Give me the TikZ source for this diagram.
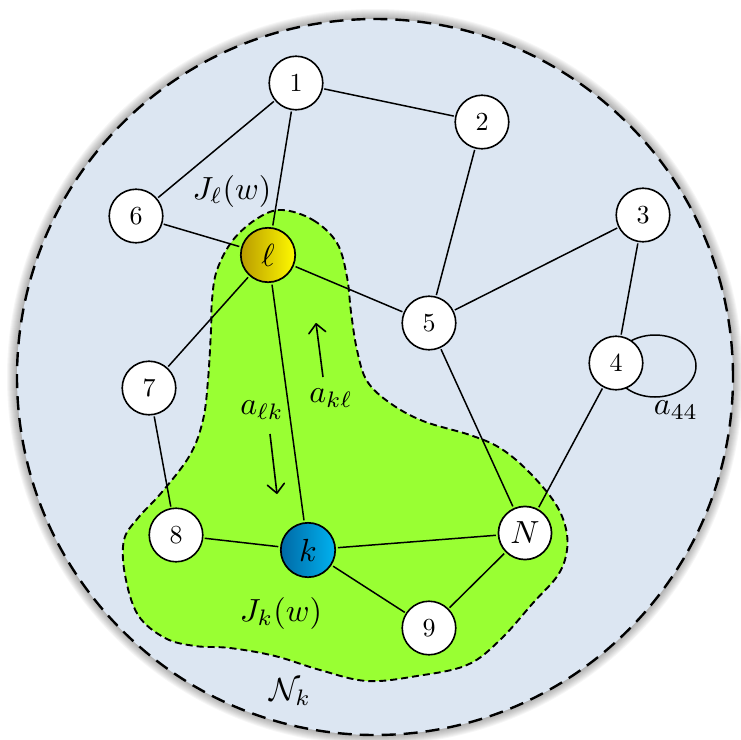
\documentclass[tikz,border=0pt]{standalone}
\usetikzlibrary{arrows.meta}
\definecolor{bgblue}{RGB}{220,230,242}
\definecolor{blobgreen}{RGB}{153,255,51}
\definecolor{ydark}{RGB}{185,155,0}
\definecolor{ylight}{RGB}{255,250,0}
\definecolor{bdark}{RGB}{0,105,165}
\definecolor{blight}{RGB}{0,178,240}
\begin{document}
\begin{tikzpicture}[x=1pt,y=-1pt,
  vtx/.style={circle,draw,line width=1.6pt,fill=white,scale=2.6,minimum size=20.6pt,inner sep=0pt},
  bigvtx/.style={circle,draw,line width=1.7pt,scale=3.2,minimum size=17pt,inner sep=0pt},
  lnk/.style={line width=1.5pt},
  lbl/.style={scale=3.2,inner sep=0pt},
  arr/.style={line width=1.6pt,-{Straight Barb[length=9pt,width=17pt,line width=1.6pt,round]}}]
\useasboundingbox (0,0) rectangle (741,739);
\coordinate (c) at (375,377);
% shadow
\foreach \r in {359,360,...,368} \fill[black,opacity=0.035] (c) circle (\r pt);
\fill[bgblue] (c) circle (358pt);
% neighbourhood blob
\path[fill=blobgreen,draw=black,line width=1.9pt,dash pattern=on 7pt off 4pt]
  plot[smooth cycle,tension=0.6] coordinates {
  (282,210) (313,220) (337,243) (347,277) (351,312) (357,350) (367,381)
  (390,403) (423,421) (470,435) (500,448) (527,470) (553,500) (565,525)
  (567,550) (558,575) (533,603) (500,640) (467,665) (417,676) (367,681)
  (320,670) (275,656) (230,648) (195,646) (165,638) (138,615) (125,575)
  (124,540) (138,518) (162,492) (190,455) (203,420) (208,380) (211,330)
  (212,300) (217,270) (233,240) (258,218)};
% self loop of node 4 (drawn under the node)
\draw[lnk] (655,366) ellipse [x radius=41pt, y radius=31pt];
% nodes
\node[vtx] (n1) at (296,83) {1};
\node[vtx] (n2) at (482,122) {2};
\node[vtx] (n3) at (643,215) {3};
\node[vtx] (n4) at (616,363) {4};
\node[vtx] (n5) at (429,323) {5};
\node[vtx] (n6) at (136,216) {6};
\node[vtx] (n7) at (149,388) {7};
\node[vtx] (n8) at (176,535) {8};
\node[vtx] (n9) at (429,628) {9};
\node[bigvtx,fill=white,minimum size=16.6pt] (nN) at (525,533) {$N$};
\node[bigvtx,left color=ydark,right color=ylight] (nl) at (268,255) {$\ell$};
\node[bigvtx,left color=bdark,right color=blight] (nk) at (308,550) {$k$};
% edges
\draw[lnk] (n1) -- (n2);
\draw[lnk] (n1) -- (n6);
\draw[lnk] (n1) -- (nl);
\draw[lnk] (n2) -- (n5);
\draw[lnk] (n3) -- (n5);
\draw[lnk] (n3) -- (n4);
\draw[lnk] (n6) -- (nl);
\draw[lnk] (nl) -- (n7);
\draw[lnk] (nl) -- (nk);
\draw[lnk] (nl) -- (n5);
\draw[lnk] (n7) -- (n8);
\draw[lnk] (n8) -- (nk);
\draw[lnk] (nk) -- (nN);
\draw[lnk] (nk) -- (n9);
\draw[lnk] (n9) -- (nN);
\draw[lnk] (n5) -- (nN);
\draw[lnk] (n4) -- (nN);
% annotation arrows
\coordinate (u1) at (323,377);
\coordinate (u2) at (316,323);
\coordinate (d1) at (270,434);
\coordinate (d2) at (277,494);
\draw[arr] (u1) -- (u2);
\draw[arr] (d1) -- (d2);
% labels
\node[lbl] (tJl) at (232,191) {$J_\ell(w)$};
\node[lbl] (tak) at (331,398) {$a_{k\ell}$};
\node[lbl] (tal) at (262,410) {$a_{\ell k}$};
\node[lbl] (tJk) at (281,613) {$J_k(w)$};
\node[lbl] (tNk) at (290,692) {$\mathcal{N}_k$};
\node[lbl] (ta44) at (676,410) {$a_{44}$};
% outer dashed border
\draw[line width=2.4pt,dash pattern=on 14pt off 8pt] (c) circle (358pt);
\end{tikzpicture}
\end{document}
